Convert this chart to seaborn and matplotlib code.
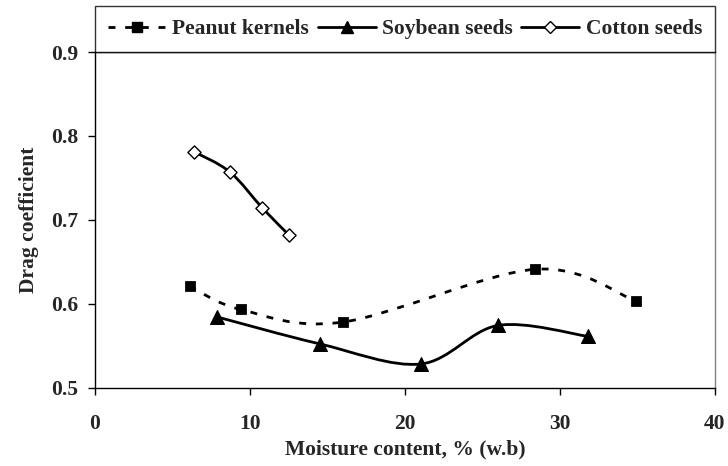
import numpy as np
import matplotlib
matplotlib.use("Agg")
import matplotlib.pyplot as plt
from matplotlib.path import Path
from matplotlib.patches import PathPatch
from matplotlib.lines import Line2D
import seaborn as sns

# Data
peanut_x = [6.1, 9.4, 16.0, 28.4, 34.9]
peanut_y = [0.621, 0.593, 0.578, 0.641, 0.603]
soy_x = [7.9, 14.5, 21.0, 26.0, 31.8]
soy_y = [0.584, 0.552, 0.528, 0.574, 0.561]
cotton_x = [6.4, 8.7, 10.8, 12.5]
cotton_y = [0.781, 0.757, 0.714, 0.682]
series_names = ["Peanut kernels", "Soybean seeds", "Cotton seeds"]
x_ticks = [0, 10, 20, 30, 40]
y_ticks = [0.5, 0.6, 0.7, 0.8, 0.9]


def smooth_path(xs, ys):
    """Excel-style smoothed line: cubic Bezier segments through the points."""
    pts = np.column_stack([xs, ys])
    n = len(pts)
    verts = [pts[0]]
    codes = [Path.MOVETO]
    for i in range(n - 1):
        p_prev = pts[i - 1] if i > 0 else pts[i]
        p_next2 = pts[i + 2] if i + 2 < n else pts[i + 1]
        c1 = pts[i] + (pts[i + 1] - p_prev) / 6.0
        c2 = pts[i + 1] - (p_next2 - pts[i]) / 6.0
        verts += [c1, c2, pts[i + 1]]
        codes += [Path.CURVE4] * 3
    return Path(verts, codes)


sns.set_theme(style="white")
plt.rcParams["font.family"] = ["Liberation Serif", "DejaVu Serif"]
plt.rcParams["font.weight"] = "bold"

fig = plt.figure(figsize=(7.28, 4.66), dpi=100)
ax = fig.add_axes([95 / 728, (466 - 387.5) / 466, 620 / 728, 335.5 / 466])

dash = (0, (2.5, 3.5))
lw = 2.0

# smoothed connecting lines
ax.add_patch(PathPatch(smooth_path(peanut_x, peanut_y), fill=False, edgecolor="black",
                       linewidth=lw, linestyle=dash, capstyle="butt"))
ax.add_patch(PathPatch(smooth_path(soy_x, soy_y), fill=False, edgecolor="black", linewidth=lw))
ax.add_patch(PathPatch(smooth_path(cotton_x, cotton_y), fill=False, edgecolor="black", linewidth=lw))

# markers
sns.scatterplot(x=peanut_x, y=peanut_y, marker="s", s=50, color="black", edgecolor="black", ax=ax, zorder=3)
sns.scatterplot(x=soy_x, y=soy_y, marker="^", s=100, color="black", edgecolor="black", ax=ax, zorder=3)
sns.scatterplot(x=cotton_x, y=cotton_y, marker="D", s=45, color="white", edgecolor="black",
                linewidth=1.0, ax=ax, zorder=3)

ax.set_xlim(0, 40)
ax.set_ylim(0.5, 0.9)
ax.set_xticks(x_ticks)
ax.set_yticks(y_ticks)
ax.set_xticklabels([str(t) for t in x_ticks])
ax.set_yticklabels([f"{t:.1f}" for t in y_ticks])
ax.tick_params(axis="both", direction="out", length=5, width=1, color="black",
               labelsize=15.5, bottom=True, left=True)
ax.tick_params(axis="x", pad=14)
ax.tick_params(axis="y", pad=7)

for side in ["left", "bottom", "top"]:
    ax.spines[side].set_color("black")
    ax.spines[side].set_linewidth(1.0)
ax.spines["right"].set_color("#808080")
ax.spines["right"].set_linewidth(1.0)

ax.set_xlabel("Moisture content, % (w.b)", fontsize=15.5, fontweight="bold", labelpad=4)
ax.set_ylabel("Drag coefficient", fontsize=15.5, fontweight="bold", labelpad=9)

handles = [
    Line2D([], [], color="black", linewidth=lw, linestyle=(0, (2.5, 3.5)), marker="s", markersize=7),
    Line2D([], [], color="black", linewidth=lw, marker="^", markersize=9),
    Line2D([], [], color="black", linewidth=lw, marker="D", markersize=6.5,
           markerfacecolor="white", markeredgecolor="black"),
]
leg = ax.legend(handles, series_names, loc="lower left", bbox_to_anchor=(0, 1, 1, 0.13),
                mode="expand", ncol=3, frameon=True, fancybox=False, edgecolor="black",
                borderaxespad=0, handlelength=2.7, handletextpad=0.3, columnspacing=0.4,
                borderpad=0.6, fontsize=15.5)
leg.get_frame().set_linewidth(1.0)
for t in leg.get_texts():
    t.set_fontweight("bold")

fig.savefig("out.png", dpi=100)
